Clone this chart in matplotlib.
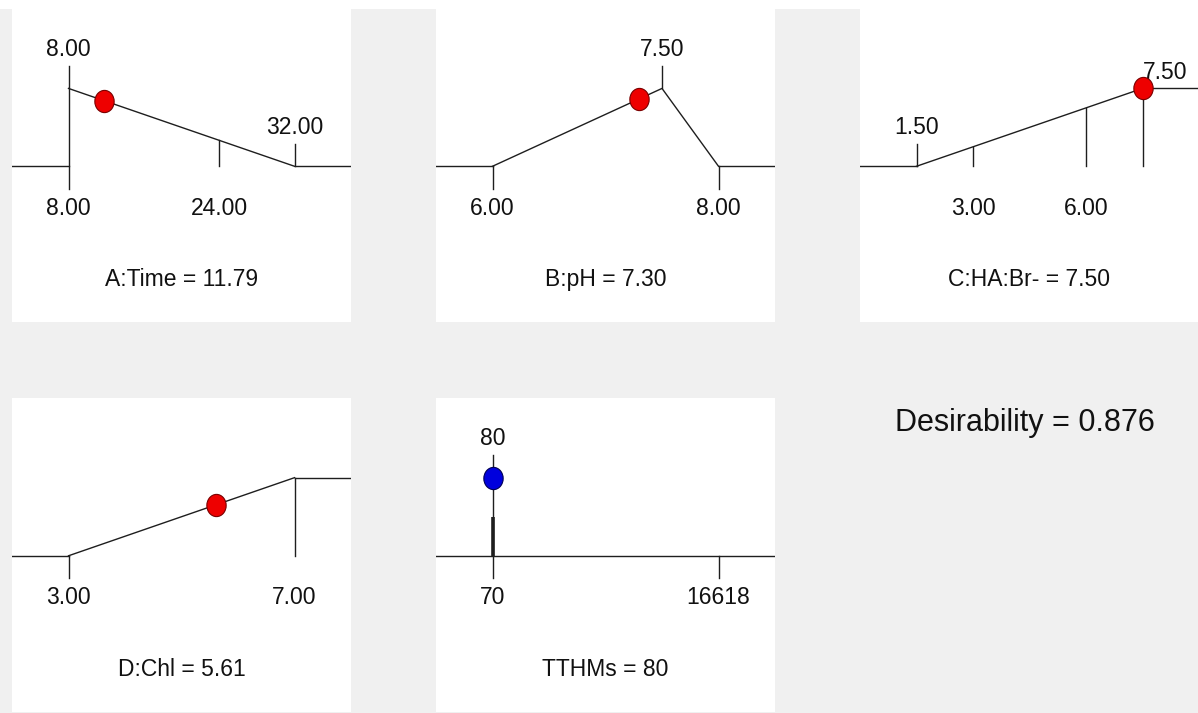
import numpy as np
import matplotlib
matplotlib.use("Agg")
import matplotlib.pyplot as plt
from matplotlib.path import Path
from matplotlib.transforms import Affine2D
from matplotlib.patches import Rectangle

plt.rcParams["font.family"] = ["Liberation Sans", "DejaVu Sans"]

# ---- ramp data: one entry per factor / response ----
NAMES = ["A:Time", "B:pH", "C:HA:Br-", "D:Chl", "TTHMs"]
LOW = [8, 6, 1.5, 3, 70]
HIGH = [32, 8, 7.5, 7, 16618]
SETTING = [11.79, 7.30, 7.50, 5.61, 80]
SETTING_TEXT = ["11.79", "7.30", "7.50", "5.61", "80"]

RAMP_X = [[8, 32], [6, 7.5, 8], [1.5, 7.5], [3, 7], []]
RAMP_D = [[1, 0], [0, 1, 0], [0, 1], [0, 1], []]
TTHM_D = 1.0
TTHM_BAR = 0.5

# tick marks: value, kind, label, label side
TICK_X = [[8, 24, 32], [6, 7.5, 8], [1.5, 3, 6, 7.5], [3, 7], [70, 16618]]
TICK_KIND = [["both", "ramp", "up"], ["down", "up", "down"],
             ["up", "ramp", "ramp", "ramp"], ["down", "ramp"], ["both", "down"]]
TICK_TEXT = [["8.00", "24.00", "32.00"], ["6.00", "7.50", "8.00"],
             ["1.50", "3.00", "6.00", "7.50"], ["3.00", "7.00"], ["70", "16618"]]
TICK_SIDE = [["both", "below", "above"], ["below", "above", "below"],
             ["above", "below", "below", "above"], ["below", "below"],
             ["below", "below"]]
DESIRABILITY = 0.876

W, H = 1198, 713
BOXES = [(12, 9, 351, 322), (436, 9, 775, 322), (860, 9, 1199, 322),
         (12, 398, 351, 712), (436, 398, 775, 712)]
LINE = "#1e1e1e"
TXT = "#111111"
FS = 16.5

ell = Path.unit_circle().transformed(Affine2D().scale(1.0, 1.15))

fig = plt.figure(figsize=(W / 100, H / 100), dpi=100, facecolor="#f0f0f0")
fig.patches.append(Rectangle((0, 1 - 9 / H), 1, 9 / H, transform=fig.transFigure,
                             facecolor="white", edgecolor="none", zorder=0))


def ramp_at(i, x):
    if not RAMP_X[i]:
        return 0.0
    return float(np.interp(x, RAMP_X[i], RAMP_D[i]))


for i, name in enumerate(NAMES):
    x0, y0, x1, y1 = BOXES[i]
    ax = fig.add_axes([x0 / W, 1 - y1 / H, (x1 - x0) / W, (y1 - y0) / H])
    ax.set_facecolor("white")
    for s in ax.spines.values():
        s.set_visible(False)
    ax.set_xticks([]); ax.set_yticks([])
    span = HIGH[i] - LOW[i]
    xmin, xmax = LOW[i] - 0.25 * span, HIGH[i] + 0.25 * span
    ax.set_xlim(xmin, xmax)
    ax.set_ylim(-2.0, 2.02)

    rx, rd = RAMP_X[i], RAMP_D[i]
    if rx:
        ax.plot([xmin, rx[0]], [0, 0], color=LINE, lw=1.0)
        ax.plot(rx, rd, color=LINE, lw=1.0)
        ax.plot([rx[-1], xmax], [rd[-1], rd[-1]], color=LINE, lw=1.0)
    else:
        ax.plot([xmin, xmax], [0, 0], color=LINE, lw=1.0)

    for tx, kind, txt, side in zip(TICK_X[i], TICK_KIND[i], TICK_TEXT[i], TICK_SIDE[i]):
        d = ramp_at(i, tx)
        if kind == "both":
            lo, hi = -0.29, 1.29
        elif kind == "up":
            lo, hi = d, d + 0.29
        elif kind == "down":
            lo, hi = d - 0.29, d
        else:
            lo, hi = 0, d
        ax.plot([tx, tx], [lo, hi], color=LINE, lw=1.0)
        if side in ("below", "both"):
            ax.text(tx, -0.54, txt, ha="center", va="center", fontsize=FS, color=TXT)
        if side in ("above", "both"):
            ha = "left" if (tx == HIGH[i] and rx and rd[-1] == 1 and kind == "ramp") else "center"
            ax.text(tx, hi + 0.21, txt, ha=ha, va="center", fontsize=FS, color=TXT)

    if rx:
        dot_d = ramp_at(i, SETTING[i])
        face, edge = "#ee0000", "#7a0000"
    else:
        dot_d = TTHM_D
        face, edge = "#0000dd", "#000055"
        # response panel: stem up to the current value
        ax.plot([LOW[i], LOW[i]], [0, TTHM_BAR], color=LINE, lw=2.6, solid_capstyle="butt")
        ax.text(LOW[i], 1.29 + 0.21, SETTING_TEXT[i], ha="center", va="center",
                fontsize=FS, color=TXT)
    ax.plot([SETTING[i]], [dot_d], marker=ell, ms=16, mfc=face, mec=edge,
            mew=0.8, linestyle="none", zorder=5)

    ax.text(0.5, (-1.45 + 2.0) / 4.02, f"{name} = {SETTING_TEXT[i]}",
            transform=ax.transAxes, ha="center", va="center", fontsize=FS, color=TXT)

fig.text(1025 / W, 1 - 423 / H, f"Desirability = {DESIRABILITY:.3f}",
         ha="center", va="center", fontsize=22, color=TXT)

fig.savefig("out.png", dpi=100, facecolor=fig.get_facecolor())
